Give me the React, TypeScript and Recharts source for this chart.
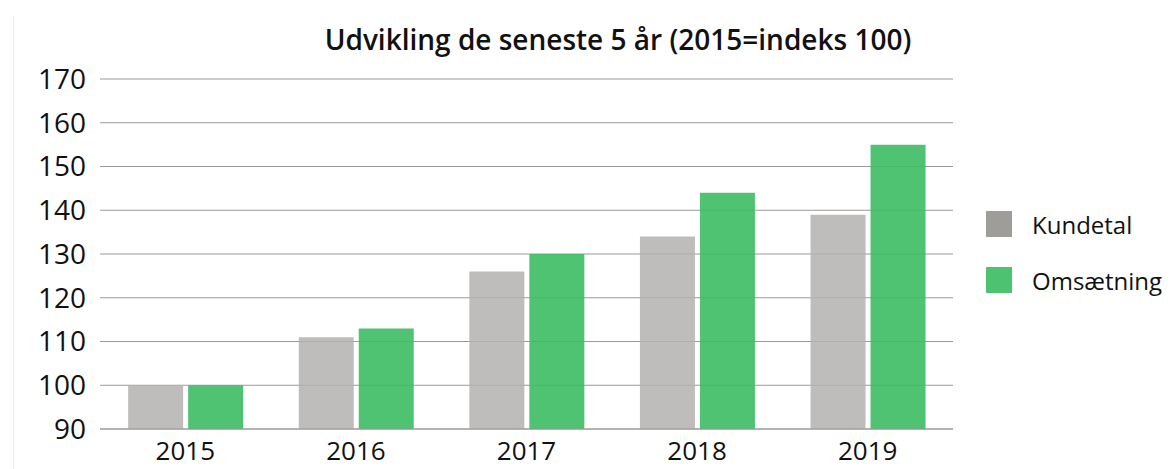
import React from 'react';
import { BarChart, Bar, XAxis, YAxis, CartesianGrid, Legend } from 'recharts';

const years = ['2015', '2016', '2017', '2018', '2019'];
const kundetal = [100, 111, 126, 134, 139];
const omsaetning = [100, 113, 130, 144, 155];
const yTicks = [90, 100, 110, 120, 130, 140, 150, 160, 170];

const data = years.map((y, i) => ({ year: y, Kundetal: kundetal[i], Omsætning: omsaetning[i] }));

const FONT = '"Open Sans", "Noto Sans", sans-serif';

const legendItems = [
  { name: 'Kundetal', color: '#9e9d9a' },
  { name: 'Omsætning', color: '#4dc270' },
];

const MyLegend = () => (
  <div style={{ fontFamily: FONT, fontSize: 24, color: '#111' }}>
    {legendItems.map(item => (
      <div key={item.name} style={{ display: 'flex', alignItems: 'center', height: 56, whiteSpace: 'nowrap' }}>
        <span style={{ width: 26, height: 26, background: item.color, marginRight: 20, display: 'inline-block' }} />
        <span>{item.name}</span>
      </div>
    ))}
  </div>
);

const App = () => {
  return (
    <div style={{ position: 'relative', width: 1160, height: 461 }}>
      <div style={{ position: 'absolute', left: 5, top: 8, bottom: 0, borderLeft: '1px solid #e6ebf1' }} />
      <div
        style={{
          position: 'absolute', left: 0, top: 12, width: 1220, textAlign: 'center',
          fontFamily: FONT, fontWeight: 600, fontSize: 28, color: '#111'
        }}
      >
        Udvikling de seneste 5 år (2015=indeks 100)
      </div>
      <BarChart
        width={1160}
        height={461}
        data={data}
        margin={{ top: 71, right: 15, bottom: 10, left: 0 }}
        barCategoryGap="16.5%"
        barGap={5}
      >
        <CartesianGrid vertical={false} stroke="#9a9a9a" strokeWidth={1.2} />
        <XAxis
          dataKey="year"
          height={30}
          tickLine={false}
          axisLine={{ stroke: '#9a9a9a' }}
          tick={{ fontSize: 26, fill: '#111', fontFamily: FONT }}
          tickMargin={7}
        />
        <YAxis
          domain={[90, 170]}
          ticks={yTicks}
          interval={0}
          tickLine={false}
          axisLine={false}
          width={92}
          tickSize={0}
          tickMargin={14}
          tick={{ fontSize: 28, fill: '#111', fontFamily: FONT }}
        />
        <Legend
          layout="vertical"
          verticalAlign="top"
          align="right"
          content={<MyLegend />}
          wrapperStyle={{ position: 'absolute', left: 978, top: 188, width: 200 }}
        />
        <Bar dataKey="Kundetal" fill="#b3b2b0" fillOpacity={0.85} isAnimationActive={false} />
        <Bar dataKey="Omsætning" fill="#3dbc64" fillOpacity={0.9} isAnimationActive={false} />
      </BarChart>
    </div>
  );
};

export default App;
